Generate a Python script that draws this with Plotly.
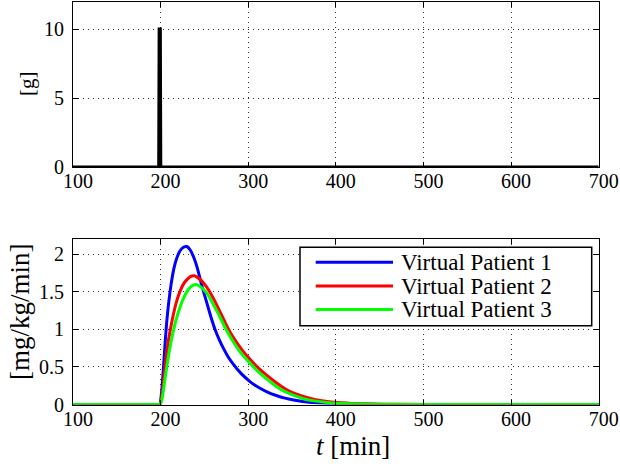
import plotly.graph_objects as go
from plotly.subplots import make_subplots

# Meal input (carbohydrate intake, grams)
meal_t = [100, 197.8, 198.3, 199.7, 200.2, 700]
meal_g = [0, 0, 10, 10, 0, 0]

# Glucose rate of appearance for three virtual patients [mg/kg/min]
t = [100, 197, 199, 201, 203, 205, 207, 209, 212, 215, 218, 222, 226, 230, 234,
     238, 242, 247, 252, 257, 262, 267, 272, 277, 282, 292, 302, 312, 322, 332,
     342, 352, 362, 377, 402, 427, 452, 502, 600, 700]
ra_p1 = [0, 0, 0, 0.15, 0.45, 0.80, 1.10, 1.33, 1.60, 1.80, 1.93, 2.04, 2.09, 2.10, 2.05,
         1.95, 1.81, 1.58, 1.38, 1.18, 1.00, 0.86, 0.74, 0.635, 0.55, 0.41, 0.305, 0.225, 0.165, 0.12,
         0.085, 0.06, 0.041, 0.022, 0.008, 0.003, 0.001, 0, 0, 0]
ra_p2 = [0, 0, 0, 0.08, 0.28, 0.50, 0.70, 0.86, 1.05, 1.22, 1.36, 1.50, 1.60, 1.66, 1.70,
         1.71, 1.69, 1.64, 1.57, 1.48, 1.37, 1.25, 1.13, 1.01, 0.91, 0.74, 0.60, 0.48, 0.38, 0.29,
         0.21, 0.15, 0.11, 0.065, 0.027, 0.011, 0.004, 0.001, 0, 0]
ra_p3 = [0, 0, 0, 0.04, 0.17, 0.34, 0.50, 0.65, 0.84, 1.00, 1.14, 1.29, 1.41, 1.50, 1.56,
         1.59, 1.59, 1.55, 1.49, 1.40, 1.29, 1.18, 1.06, 0.95, 0.85, 0.68, 0.55, 0.43, 0.33, 0.24,
         0.17, 0.12, 0.08, 0.045, 0.016, 0.006, 0.002, 0, 0, 0]

names = ["Virtual Patient 1", "Virtual Patient 2", "Virtual Patient 3"]
colors = ["#0000ff", "#ff0000", "#00ff00"]

x_ticks = [100, 200, 300, 400, 500, 600, 700]
top_y_ticks = [0, 5, 10]
bot_y_ticks = [0, 0.5, 1, 1.5, 2]
bot_y_labels = ["0", "0.5", "1", "1.5", "2"]

FONT = "Liberation Serif"
W, H = 620, 468

# Plot-area geometry in paper fractions
X_DOM = [73 / W, 598.7 / W]
TOP_DOM = [(H - 167) / H, (H - 1.5) / H]
BOT_DOM = [(H - 404.5) / H, (H - 239) / H]

fig = make_subplots(rows=2, cols=1)

fig.add_trace(go.Scatter(x=meal_t, y=meal_g, mode="lines",
                         line=dict(color="black", width=3),
                         showlegend=False), row=1, col=1)

for ys, name, c in zip([ra_p1, ra_p2, ra_p3], names, colors):
    fig.add_trace(go.Scatter(x=t, y=ys, mode="lines", name=name, showlegend=False,
                             line=dict(color=c, width=3, shape="spline", smoothing=0.5)),
                  row=2, col=1)

axis_common = dict(
    showline=True, linecolor="black", linewidth=1, mirror="ticks",
    ticks="inside", ticklen=5, tickcolor="black", tickwidth=1,
    showgrid=True, gridcolor="#333333", griddash="1px,4px", gridwidth=1,
    zeroline=False, automargin=False,
    tickfont=dict(family=FONT, size=20, color="black"),
)

fig.update_xaxes(**axis_common, range=[100, 700], tickvals=x_ticks, domain=X_DOM,
                 ticklabelstandoff=-4, ticklabelshift=5)
fig.update_yaxes(**axis_common, ticklabelstandoff=4)

fig.update_yaxes(range=[0, 12], tickvals=top_y_ticks, row=1, col=1, domain=TOP_DOM)
fig.update_yaxes(range=[0, 2.2], tickvals=bot_y_ticks, ticktext=bot_y_labels, row=2, col=1,
                 domain=BOT_DOM)

# Axis titles
fig.add_annotation(text="[g]", xref="paper", yref="paper", textangle=-90,
                   x=27 / W, y=(H - 84) / H, xanchor="center", yanchor="middle",
                   showarrow=False, font=dict(family=FONT, size=21, color="black"))
fig.add_annotation(text="[mg/kg/min]", xref="paper", yref="paper", textangle=-90,
                   x=20 / W, y=(H - 312) / H, xanchor="center", yanchor="middle",
                   showarrow=False, font=dict(family=FONT, size=27, color="black"))
fig.add_annotation(text="<i>t</i> [min]", xref="paper", yref="paper",
                   x=353 / W, y=(H - 446) / H, xanchor="center", yanchor="middle",
                   showarrow=False, font=dict(family=FONT, size=27, color="black"))

# Legend box drawn in the lower panel
lx0, lx1, ly0, ly1 = 300, 591.7, 247.3, 325.7
fig.add_shape(type="rect", xref="paper", yref="paper",
              x0=lx0 / W, x1=lx1 / W, y0=(H - ly1) / H, y1=(H - ly0) / H,
              line=dict(color="black", width=1.5), fillcolor="white", layer="above")
row_y = [262.3, 286, 309.5]
for name, c, ry in zip(names, colors, row_y):
    fig.add_shape(type="line", xref="paper", yref="paper",
                  x0=315.7 / W, x1=393 / W, y0=(H - ry) / H, y1=(H - ry) / H,
                  line=dict(color=c, width=3), layer="above")
    fig.add_annotation(text=name, xref="paper", yref="paper",
                       x=400 / W, y=(H - ry) / H, xanchor="left", yanchor="middle",
                       showarrow=False, borderpad=0,
                       font=dict(family=FONT, size=23, color="black"))

fig.update_layout(
    width=W, height=H,
    margin=dict(l=0, r=0, t=0, b=0),
    paper_bgcolor="white", plot_bgcolor="white",
    font=dict(family=FONT, color="black"),
    showlegend=False,
)

fig.write_html("out.html")
